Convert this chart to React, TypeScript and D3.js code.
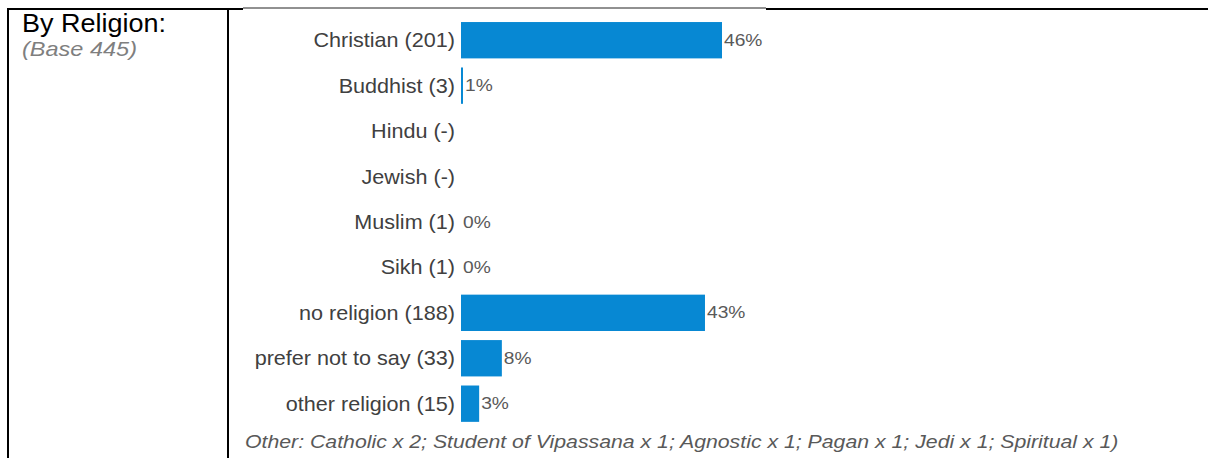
import React from "react";
import * as d3 from "d3";

const categories = [
  "Christian (201)",
  "Buddhist (3)",
  "Hindu (-)",
  "Jewish (-)",
  "Muslim (1)",
  "Sikh (1)",
  "no religion (188)",
  "prefer not to say (33)",
  "other religion (15)",
];
const values = [46, 0.35, 0, 0, 0, 0, 43, 7.2, 3.2];
const valueLabels = ["46%", "1%", "", "", "0%", "0%", "43%", "8%", "3%"];
const title = "By Religion:";
const baseNote = "(Base 445)";
const footnote =
  "Other: Catholic x 2; Student of Vipassana x 1; Agnostic x 1; Pagan x 1; Jedi x 1; Spiritual x 1)";

const W = 1209;
const H = 458;
const FONT = "'Liberation Sans', Arial, sans-serif";

function T(props: {
  x: number;
  y: number;
  sx: number;
  size: number;
  fill: string;
  anchor?: string;
  italic?: boolean;
  dy?: string;
  children: React.ReactNode;
}) {
  return (
    <text
      transform={`translate(${props.x},${props.y}) scale(${props.sx},1)`}
      dy={props.dy}
      textAnchor={props.anchor || "start"}
      fontFamily={FONT}
      fontSize={props.size}
      fontStyle={props.italic ? "italic" : "normal"}
      fill={props.fill}
    >
      {props.children}
    </text>
  );
}

export default function App() {
  const x = d3.scaleLinear().domain([0, 46]).range([461, 722]);
  const y = d3
    .scaleBand<string>()
    .domain(categories)
    .range([17.5, 426.4])
    .paddingInner(0.2)
    .paddingOuter(0.1);
  const bw = y.bandwidth();

  return (
    <div style={{ position: "absolute", left: 0, top: 0 }}>
      <svg width={W} height={H} style={{ display: "block", background: "#fff" }}>
        {/* table borders */}
        <line x1={7} x2={243} y1={9} y2={9} stroke="#000" strokeWidth={2} />
        <line x1={243} x2={766} y1={8} y2={8} stroke="#222" strokeWidth={1} />
        <line x1={766} x2={1208} y1={9} y2={9} stroke="#000" strokeWidth={2} />
        <line x1={8} x2={8} y1={8} y2={H} stroke="#000" strokeWidth={2} />
        <line x1={228} x2={228} y1={8} y2={H} stroke="#000" strokeWidth={2} />

        <T x={22} y={32} sx={1.08} size={25} fill="#000">
          {title}
        </T>
        <T x={22} y={56} sx={1.12} size={21} fill="#7f7f7f" italic>
          {baseNote}
        </T>

        {categories.map((c, i) => {
          const yc = (y(c) as number) + bw / 2;
          const w = Math.max(0, x(values[i]) - x(0));
          return (
            <g key={c}>
              <T x={455} y={yc} dy="0.35em" anchor="end" sx={1.08} size={20} fill="#404040">
                {c}
              </T>
              {w > 0 && <rect x={x(0)} y={y(c)} width={w} height={bw} fill="#0788D3" />}
              {valueLabels[i] && (
                <T x={x(values[i]) + 2} y={yc} dy="0.35em" sx={1.2} size={16} fill="#595959">
                  {valueLabels[i]}
                </T>
              )}
            </g>
          );
        })}

        <T x={245} y={448} sx={1.12} size={19} fill="#595959" italic>
          {footnote}
        </T>
      </svg>
    </div>
  );
}
